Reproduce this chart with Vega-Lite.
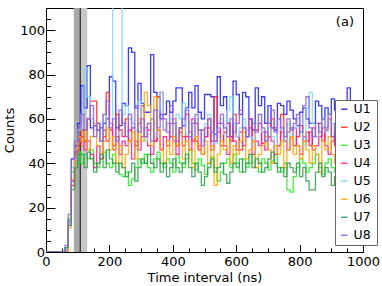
{
  "$schema": "https://vega.github.io/schema/vega-lite/v6.json",
  "width": 317,
  "height": 244,
  "autosize": {"type": "none"},
  "padding": {"left": 46, "top": 8, "right": 19, "bottom": 34},
  "config": {
    "font": "DejaVu Sans",
    "view": {"stroke": null},
    "axis": {"grid": false, "labelFont": "DejaVu Sans", "labelFontSize": 13, "labelColor": "black", "titleFont": "DejaVu Sans", "titleFontSize": 13, "titleFontWeight": "normal", "titleColor": "black", "tickColor": "black", "domainColor": "black", "tickWidth": 1, "domainWidth": 1}
  },
  "data": {"values": [
    {"t":0,"U1":0,"U2":0,"U3":0,"U4":0,"U5":0,"U6":0,"U7":0,"U8":0},
    {"t":10,"U1":0,"U2":0,"U3":0,"U4":0,"U5":0,"U6":0,"U7":0,"U8":0},
    {"t":20,"U1":0,"U2":0,"U3":0,"U4":0,"U5":0,"U6":0,"U7":0,"U8":0},
    {"t":30,"U1":0,"U2":0,"U3":0,"U4":0,"U5":0,"U6":0,"U7":0,"U8":0},
    {"t":40,"U1":0,"U2":0,"U3":0,"U4":0,"U5":0,"U6":0,"U7":0,"U8":0},
    {"t":50,"U1":0,"U2":0,"U3":0,"U4":0,"U5":0,"U6":0,"U7":0,"U8":0},
    {"t":60,"U1":1,"U2":0,"U3":2,"U4":1,"U5":1,"U6":0,"U7":2,"U8":3},
    {"t":70,"U1":14,"U2":12,"U3":15,"U4":13,"U5":13,"U6":11,"U7":12,"U8":17},
    {"t":80,"U1":42,"U2":30,"U3":36,"U4":32,"U5":38,"U6":33,"U7":28,"U8":42},
    {"t":90,"U1":48,"U2":44,"U3":40,"U4":45,"U5":50,"U6":46,"U7":38,"U8":50},
    {"t":100,"U1":58,"U2":48,"U3":45,"U4":50,"U5":55,"U6":52,"U7":44,"U8":56},
    {"t":110,"U1":75,"U2":55,"U3":40,"U4":52,"U5":62,"U6":50,"U7":44,"U8":62},
    {"t":120,"U1":65,"U2":50,"U3":44,"U4":46,"U5":83,"U6":55,"U7":38,"U8":55},
    {"t":130,"U1":84,"U2":60,"U3":42,"U4":50,"U5":70,"U6":46,"U7":45,"U8":60},
    {"t":140,"U1":56,"U2":68,"U3":46,"U4":44,"U5":60,"U6":52,"U7":42,"U8":66},
    {"t":150,"U1":57,"U2":68,"U3":40,"U4":38,"U5":55,"U6":58,"U7":36,"U8":52},
    {"t":160,"U1":55,"U2":58,"U3":38,"U4":48,"U5":58,"U6":48,"U7":40,"U8":58},
    {"t":170,"U1":56,"U2":50,"U3":42,"U4":42,"U5":50,"U6":44,"U7":44,"U8":50},
    {"t":180,"U1":58,"U2":52,"U3":45,"U4":55,"U5":62,"U6":50,"U7":38,"U8":62},
    {"t":190,"U1":60,"U2":72,"U3":40,"U4":50,"U5":55,"U6":56,"U7":46,"U8":68},
    {"t":200,"U1":79,"U2":55,"U3":38,"U4":58,"U5":58,"U6":46,"U7":42,"U8":56},
    {"t":210,"U1":77,"U2":48,"U3":44,"U4":46,"U5":130,"U6":52,"U7":40,"U8":60},
    {"t":220,"U1":56,"U2":62,"U3":40,"U4":52,"U5":130,"U6":40,"U7":36,"U8":50},
    {"t":230,"U1":57,"U2":55,"U3":35,"U4":44,"U5":130,"U6":48,"U7":40,"U8":64},
    {"t":240,"U1":67,"U2":52,"U3":34,"U4":50,"U5":62,"U6":38,"U7":38,"U8":58},
    {"t":250,"U1":66,"U2":60,"U3":36,"U4":48,"U5":66,"U6":44,"U7":34,"U8":52},
    {"t":260,"U1":92,"U2":50,"U3":30,"U4":55,"U5":60,"U6":50,"U7":36,"U8":62},
    {"t":270,"U1":90,"U2":56,"U3":33,"U4":42,"U5":58,"U6":54,"U7":40,"U8":56},
    {"t":280,"U1":65,"U2":48,"U3":38,"U4":50,"U5":55,"U6":42,"U7":32,"U8":66},
    {"t":290,"U1":76,"U2":58,"U3":42,"U4":46,"U5":68,"U6":60,"U7":38,"U8":54},
    {"t":300,"U1":67,"U2":66,"U3":40,"U4":52,"U5":56,"U6":50,"U7":42,"U8":60},
    {"t":310,"U1":63,"U2":52,"U3":44,"U4":56,"U5":50,"U6":72,"U7":40,"U8":52},
    {"t":320,"U1":63,"U2":55,"U3":38,"U4":48,"U5":58,"U6":66,"U7":44,"U8":58},
    {"t":330,"U1":89,"U2":60,"U3":36,"U4":44,"U5":60,"U6":48,"U7":40,"U8":50},
    {"t":340,"U1":72,"U2":50,"U3":42,"U4":50,"U5":52,"U6":70,"U7":38,"U8":64},
    {"t":350,"U1":70,"U2":70,"U3":45,"U4":55,"U5":64,"U6":55,"U7":42,"U8":56},
    {"t":360,"U1":60,"U2":72,"U3":40,"U4":46,"U5":72,"U6":46,"U7":36,"U8":62},
    {"t":370,"U1":62,"U2":55,"U3":38,"U4":52,"U5":55,"U6":40,"U7":40,"U8":60},
    {"t":380,"U1":68,"U2":58,"U3":42,"U4":48,"U5":58,"U6":50,"U7":34,"U8":54},
    {"t":390,"U1":63,"U2":52,"U3":40,"U4":58,"U5":60,"U6":44,"U7":38,"U8":66},
    {"t":400,"U1":68,"U2":60,"U3":36,"U4":50,"U5":52,"U6":52,"U7":42,"U8":58},
    {"t":410,"U1":74,"U2":48,"U3":44,"U4":44,"U5":62,"U6":48,"U7":38,"U8":50},
    {"t":420,"U1":74,"U2":56,"U3":40,"U4":54,"U5":60,"U6":56,"U7":36,"U8":56},
    {"t":430,"U1":57,"U2":52,"U3":38,"U4":48,"U5":67,"U6":42,"U7":40,"U8":60},
    {"t":440,"U1":65,"U2":62,"U3":42,"U4":52,"U5":53,"U6":50,"U7":44,"U8":64},
    {"t":450,"U1":72,"U2":54,"U3":46,"U4":46,"U5":58,"U6":46,"U7":38,"U8":52},
    {"t":460,"U1":65,"U2":50,"U3":40,"U4":60,"U5":52,"U6":38,"U7":34,"U8":58},
    {"t":470,"U1":75,"U2":58,"U3":37,"U4":50,"U5":60,"U6":52,"U7":40,"U8":62},
    {"t":480,"U1":63,"U2":46,"U3":42,"U4":48,"U5":55,"U6":48,"U7":36,"U8":55},
    {"t":490,"U1":60,"U2":55,"U3":39,"U4":44,"U5":50,"U6":44,"U7":30,"U8":48},
    {"t":500,"U1":71,"U2":52,"U3":35,"U4":52,"U5":58,"U6":50,"U7":34,"U8":56},
    {"t":510,"U1":71,"U2":60,"U3":40,"U4":56,"U5":62,"U6":40,"U7":38,"U8":60},
    {"t":520,"U1":70,"U2":50,"U3":43,"U4":46,"U5":54,"U6":48,"U7":42,"U8":54},
    {"t":530,"U1":53,"U2":70,"U3":38,"U4":50,"U5":49,"U6":30,"U7":36,"U8":50},
    {"t":540,"U1":79,"U2":56,"U3":32,"U4":54,"U5":56,"U6":44,"U7":38,"U8":58},
    {"t":550,"U1":66,"U2":48,"U3":36,"U4":58,"U5":60,"U6":50,"U7":40,"U8":62},
    {"t":560,"U1":70,"U2":54,"U3":40,"U4":48,"U5":53,"U6":46,"U7":35,"U8":56},
    {"t":570,"U1":58,"U2":58,"U3":42,"U4":44,"U5":64,"U6":52,"U7":31,"U8":52},
    {"t":580,"U1":52,"U2":50,"U3":38,"U4":52,"U5":70,"U6":40,"U7":36,"U8":60},
    {"t":590,"U1":77,"U2":62,"U3":44,"U4":50,"U5":58,"U6":48,"U7":40,"U8":54},
    {"t":600,"U1":71,"U2":52,"U3":40,"U4":46,"U5":52,"U6":44,"U7":38,"U8":58},
    {"t":610,"U1":62,"U2":46,"U3":36,"U4":54,"U5":56,"U6":50,"U7":42,"U8":64},
    {"t":620,"U1":72,"U2":56,"U3":42,"U4":48,"U5":60,"U6":54,"U7":36,"U8":56},
    {"t":630,"U1":70,"U2":52,"U3":38,"U4":52,"U5":55,"U6":42,"U7":40,"U8":52},
    {"t":640,"U1":60,"U2":60,"U3":40,"U4":56,"U5":52,"U6":46,"U7":44,"U8":60},
    {"t":650,"U1":55,"U2":50,"U3":44,"U4":44,"U5":48,"U6":50,"U7":38,"U8":58},
    {"t":660,"U1":74,"U2":55,"U3":38,"U4":50,"U5":58,"U6":38,"U7":42,"U8":54},
    {"t":670,"U1":66,"U2":58,"U3":36,"U4":48,"U5":62,"U6":44,"U7":40,"U8":62},
    {"t":680,"U1":70,"U2":49,"U3":42,"U4":54,"U5":54,"U6":48,"U7":36,"U8":56},
    {"t":690,"U1":58,"U2":54,"U3":40,"U4":46,"U5":50,"U6":52,"U7":38,"U8":50},
    {"t":700,"U1":66,"U2":52,"U3":37,"U4":52,"U5":56,"U6":46,"U7":42,"U8":58},
    {"t":710,"U1":56,"U2":60,"U3":41,"U4":50,"U5":52,"U6":40,"U7":45,"U8":64},
    {"t":720,"U1":55,"U2":56,"U3":44,"U4":44,"U5":48,"U6":48,"U7":40,"U8":54},
    {"t":730,"U1":67,"U2":48,"U3":38,"U4":48,"U5":60,"U6":44,"U7":36,"U8":60},
    {"t":740,"U1":66,"U2":62,"U3":36,"U4":54,"U5":55,"U6":50,"U7":38,"U8":56},
    {"t":750,"U1":62,"U2":50,"U3":40,"U4":50,"U5":50,"U6":38,"U7":34,"U8":52},
    {"t":760,"U1":68,"U2":54,"U3":28,"U4":46,"U5":58,"U6":46,"U7":40,"U8":60},
    {"t":770,"U1":64,"U2":56,"U3":27,"U4":52,"U5":52,"U6":52,"U7":38,"U8":55},
    {"t":780,"U1":60,"U2":48,"U3":34,"U4":56,"U5":56,"U6":44,"U7":36,"U8":58},
    {"t":790,"U1":57,"U2":52,"U3":38,"U4":48,"U5":60,"U6":48,"U7":40,"U8":62},
    {"t":800,"U1":63,"U2":57,"U3":42,"U4":44,"U5":54,"U6":42,"U7":34,"U8":54},
    {"t":810,"U1":65,"U2":50,"U3":40,"U4":52,"U5":48,"U6":50,"U7":38,"U8":66},
    {"t":820,"U1":60,"U2":54,"U3":36,"U4":50,"U5":65,"U6":46,"U7":32,"U8":70},
    {"t":830,"U1":58,"U2":48,"U3":38,"U4":54,"U5":72,"U6":40,"U7":28,"U8":56},
    {"t":840,"U1":58,"U2":56,"U3":40,"U4":46,"U5":58,"U6":48,"U7":28,"U8":52},
    {"t":850,"U1":68,"U2":52,"U3":44,"U4":48,"U5":52,"U6":44,"U7":36,"U8":58},
    {"t":860,"U1":66,"U2":58,"U3":38,"U4":52,"U5":56,"U6":36,"U7":40,"U8":54},
    {"t":870,"U1":60,"U2":50,"U3":35,"U4":56,"U5":60,"U6":50,"U7":34,"U8":60},
    {"t":880,"U1":65,"U2":55,"U3":40,"U4":48,"U5":54,"U6":46,"U7":38,"U8":56},
    {"t":890,"U1":62,"U2":60,"U3":42,"U4":44,"U5":62,"U6":52,"U7":36,"U8":62},
    {"t":900,"U1":69,"U2":52,"U3":38,"U4":50,"U5":58,"U6":44,"U7":30,"U8":52},
    {"t":910,"U1":64,"U2":48,"U3":36,"U4":54,"U5":55,"U6":40,"U7":34,"U8":58},
    {"t":920,"U1":66,"U2":56,"U3":40,"U4":48,"U5":60,"U6":48,"U7":38,"U8":54},
    {"t":930,"U1":62,"U2":54,"U3":34,"U4":52,"U5":52,"U6":30,"U7":40,"U8":60},
    {"t":940,"U1":68,"U2":50,"U3":38,"U4":46,"U5":56,"U6":44,"U7":36,"U8":56},
    {"t":950,"U1":74,"U2":58,"U3":42,"U4":50,"U5":58,"U6":50,"U7":30,"U8":52},
    {"t":960,"U1":62,"U2":52,"U3":36,"U4":54,"U5":54,"U6":46,"U7":28,"U8":58},
    {"t":970,"U1":66,"U2":55,"U3":40,"U4":48,"U5":60,"U6":42,"U7":34,"U8":55},
    {"t":980,"U1":63,"U2":50,"U3":38,"U4":52,"U5":55,"U6":48,"U7":36,"U8":60},
    {"t":990,"U1":65,"U2":54,"U3":41,"U4":50,"U5":57,"U6":45,"U7":38,"U8":56},
    {"t":1000,"U1":65,"U2":54,"U3":41,"U4":50,"U5":57,"U6":45,"U7":38,"U8":56}
  ]},
  "layer": [
    {
      "data": {"values": [{}]},
      "mark": {"type": "rect", "color": "#c8c8c8"},
      "encoding": {
        "x": {"datum": 88, "type": "quantitative", "scale": {"domain": [0, 1000], "nice": false},
              "axis": {"orient": "bottom", "values": [0,50,100,150,200,250,300,350,400,450,500,550,600,650,700,750,800,850,900,950,1000], "tickSize": -4, "labels": false, "domain": false, "title": null}},
        "x2": {"datum": 130},
        "y": {"datum": 0, "type": "quantitative", "scale": {"domain": [0, 110], "nice": false},
              "axis": {"orient": "left", "values": [0,5,10,15,20,25,30,35,40,45,50,55,60,65,70,75,80,85,90,95,100,105,110], "tickSize": -4.5, "labels": false, "domain": false, "title": null}},
        "y2": {"datum": 110}
      }
    },
    {
      "data": {"values": [{}]},
      "mark": {"type": "rect", "color": "#a8a8a8"},
      "encoding": {
        "x": {"datum": 88, "type": "quantitative", "axis": {"orient": "top", "ticks": false, "labels": false, "domain": true, "title": null}},
        "x2": {"datum": 106},
        "y": {"datum": 0, "type": "quantitative", "axis": {"orient": "right", "ticks": false, "labels": false, "domain": true, "title": null}},
        "y2": {"datum": 110}
      }
    },
    {
      "data": {"values": [{}]},
      "mark": {"type": "rule", "color": "#222222", "strokeWidth": 1.2},
      "encoding": {
        "x": {"datum": 108, "type": "quantitative", "axis": null}
      }
    },
    {
      "transform": [{"fold": ["U1","U2","U3","U4","U5","U6","U7","U8"], "as": ["unit", "count"]}],
      "mark": {"type": "line", "interpolate": "step-after", "clip": true, "strokeWidth": 1.3, "opacity": 0.85},
      "encoding": {
        "x": {"field": "t", "type": "quantitative",
              "axis": {"orient": "bottom", "values": [0,200,400,600,800,1000], "format": "d", "tickSize": -7.5, "labelPadding": 10.5, "labelFlush": false, "labelOverlap": false, "title": "Time interval (ns)", "titlePadding": 3}},
        "y": {"field": "count", "type": "quantitative",
              "axis": {"orient": "left", "values": [0,20,40,60,80,100], "format": "d", "tickSize": -9, "labelPadding": 10.5, "labelOverlap": false, "title": "Counts", "titlePadding": 3}},
        "color": {"field": "unit", "type": "nominal",
                  "scale": {"domain": ["U1","U2","U3","U4","U5","U6","U7","U8"],
                            "range": ["#1a1aff","#ff2020","#22ee22","#ff1493","#7fd4ff","#ffa500","#2e9e4e","#8a5ce6"]},
                  "legend": {"title": " ", "titleOrient": "right", "titlePadding": 3, "titleFontSize": 12,
                             "orient": "none", "legendX": 289, "legendY": 92,
                             "symbolType": "stroke", "symbolSize": 40, "symbolStrokeWidth": 1.5,
                             "labelFont": "DejaVu Sans", "labelFontSize": 12.5, "labelColor": "black", "labelOffset": 3,
                             "padding": 3, "rowPadding": 5, "fillColor": "white", "strokeColor": "#666666"}}
      }
    },
    {
      "data": {"values": [{}]},
      "mark": {"type": "text", "text": "(a)", "font": "DejaVu Sans", "fontSize": 13, "baseline": "middle", "align": "center", "color": "black"},
      "encoding": {
        "x": {"datum": 943, "type": "quantitative", "axis": null},
        "y": {"datum": 103.5, "type": "quantitative", "axis": null}
      }
    }
  ],
  "resolve": {"axis": {"x": "independent", "y": "independent"}}
}
